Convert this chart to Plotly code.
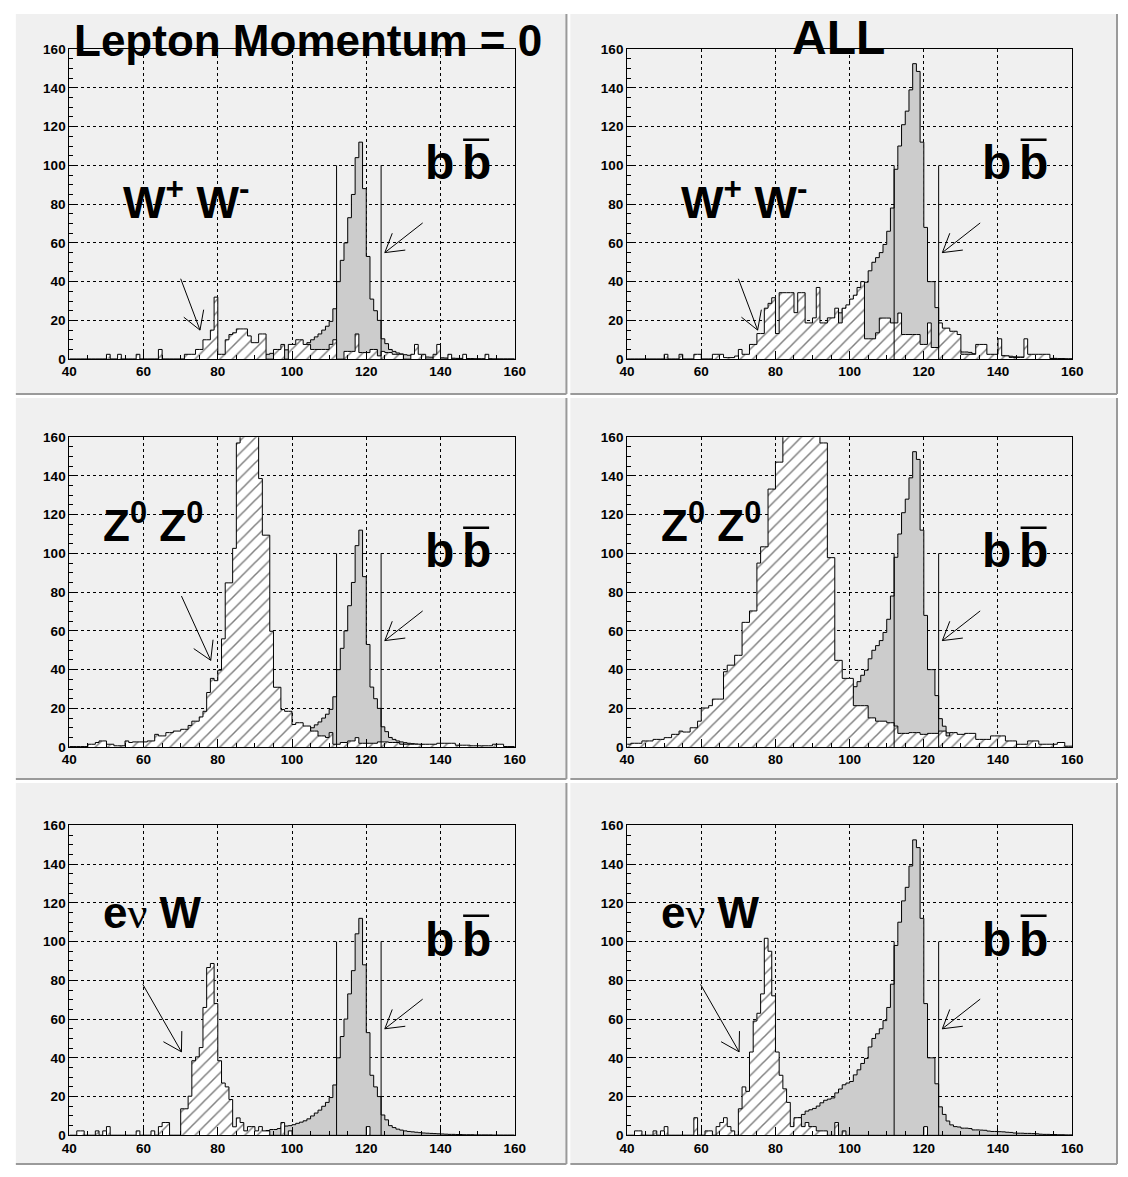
import math
import plotly.graph_objects as go

# Histogram binning: 120 bins of 1 GeV between 40 and 160
X_MIN, X_MAX = 40, 160
Y_MAX = 160
BIN_EDGES = list(range(X_MIN, X_MAX + 1))

# b b-bar signal, "Lepton Momentum = 0" selection (left column)
BB_LEPTON0 = [
    0, 0, 0, 0, 0, 0, 0, 0, 0, 0,                      # 40
    0, 0, 0, 0, 0, 0, 0, 0, 0, 0,                      # 50
    0, 0, 0, 0, 0, 0, 0, 0, 0, 0,                      # 60
    0, 0, 0, 0, 0, 0, 0, 0, 0, 0,                      # 70
    0, 0, 0, 0, 0, 0, 0, 0, 1, 1,                      # 80
    1.5, 2, 2, 2.5, 3, 3, 3.5, 4.5, 4.8, 5,            # 90
    5.5, 6.2, 6.8, 7.5, 8.5, 10, 11.5, 13, 15, 17,     # 100
    19.5, 26, 40, 51, 60, 73, 85, 104, 112, 88,        # 110
    53, 31, 25, 20, 10.5, 8, 5, 4, 3.2, 2.7,           # 120
    2.3, 2, 1.8, 1.6, 1.4, 1.2, 1.1, 1, 0.9, 0.8,      # 130
    0.7, 0.6, 0.5, 0.5, 0.4, 0.4, 0.3, 0.3, 0.3, 0.2,  # 140
    0.2, 0.2, 0.2, 0.2, 0.1, 0.1, 0.1, 0.1, 0.1, 0.1,  # 150
]

# b b-bar signal, all events (right column)
BB_ALL = [
    0, 0, 0, 0, 0, 0, 0, 0, 0, 0,
    0, 0, 0, 0, 0, 0, 0, 0, 0, 0,
    0, 0, 0, 0, 0, 0, 0, 0, 0, 0,
    0, 0, 0, 0, 0, 0, 0, 0, 0, 0,
    0, 0, 0, 1, 3, 7, 9.1, 10.8, 12.5, 13.2,
    13.9, 15.1, 16.8, 18.1, 18.7, 19.3, 21.9, 23.9, 26.1, 27,
    27.8, 31.2, 33.8, 37.1, 39.7, 45.6, 50, 52.4, 55, 59.2,
    66, 78, 98, 110, 121, 128, 139, 152.5, 148.5, 112,
    68, 40, 40, 26.6, 14.7, 10.8, 7.4, 5.4, 4.5, 4.3,
    3.7, 3.7, 3.5, 2.8, 2.8, 2.7, 2.6, 2.2, 2, 2,
    1.9, 1.8, 1.6, 1.5, 1.2, 1.1, 1.1, 1, 1, 0.9,
    0.8, 0.6, 0.5, 0.5, 0.4, 0.4, 0.3, 0.3, 0.2, 0.2,
]

# W+ W- background
WW_LEPTON0 = [
    0, 0, 0, 0, 0, 0, 0, 0, 0, 0,
    2.5, 0, 0, 2.5, 0, 0, 0, 0, 2.5, 0,
    0, 0, 0, 0, 5, 0, 0, 0, 0, 0,
    0, 2.5, 2.5, 2.5, 5, 5, 10, 10, 15, 32,
    2.5, 2.5, 10, 12.7, 13.6, 15.6, 15.6, 15.6, 12, 8.5,
    8.5, 13, 13, 0, 0, 5, 5, 7.6, 0, 7.6,
    7.6, 10, 10, 7.6, 7.6, 5, 5, 5, 5, 5,
    7.6, 10, 0, 0, 4, 4, 4, 13, 3.4, 3.4,
    3.4, 5, 5, 1.7, 4, 3.4, 3.4, 2.5, 2.5, 2.5,
    0, 0, 2.5, 7.6, 2.5, 2.5, 0, 0, 2.5, 7.6,
    0, 0, 2.5, 0, 0, 0, 2.5, 0, 0, 0,
    0, 0, 2.5, 0, 0, 0, 0, 0, 0, 0,
]

WW_ALL = [
    0, 0, 0, 0, 0, 0, 0, 0, 0, 0,
    2.5, 0, 0, 0, 2.5, 0, 0, 0, 2.5, 2.5,
    0, 0, 0, 2.5, 2.5, 2.5, 0.8, 0.8, 0.8, 1.6,
    5, 2.5, 2.5, 7.6, 7.6, 13.2, 13.2, 26.3, 28.8, 31.7,
    13.2, 34.3, 34.3, 34.3, 34.3, 24, 34.3, 34.3, 18.7, 18.7,
    21.3, 37, 18.7, 18.7, 21.3, 21.3, 26.3, 18.7, 26.3, 28,
    31, 33, 37, 40, 10.5, 10.5, 10.5, 13.6, 21.2, 21.2,
    21.2, 18.7, 18.7, 23.8, 12.7, 12.7, 12.7, 12.7, 12.7, 7.6,
    7.6, 18.7, 6, 6, 18.7, 16, 16, 14.4, 14.4, 12.7,
    2.5, 2.5, 2.5, 2.5, 7.6, 7.6, 7.6, 2.5, 2.5, 2.5,
    10.5, 1.7, 1.7, 0.9, 0.9, 0.9, 0.9, 10.5, 2.5, 2.5,
    2.5, 2.5, 2.5, 2.5, 0.3, 0.3, 0.3, 0.3, 0, 0,
]

# Z0 Z0 background (bins above 160 run off the top of the frame)
ZZ_LEPTON0 = [
    0.3, 0.3, 0.3, 0.3, 0.3, 1.5, 1.5, 2.4, 3.2, 3.2,
    1.5, 1.5, 0.7, 0.7, 0.7, 3.2, 2.4, 2.7, 2.7, 2.7,
    2.7, 3.2, 3.2, 6.6, 5.8, 5.8, 7.5, 7.5, 8.3, 8.3,
    9.2, 9.2, 11.2, 13.4, 13.4, 15.6, 18.5, 28.2, 35.5, 34.3,
    39.7, 55.9, 84.8, 84.8, 102.6, 157, 175, 190, 200, 185,
    170, 138.6, 109.4, 109.4, 59.8, 30.9, 30.9, 19.4, 18.5, 18.5,
    11.7, 12.6, 12.6, 10.9, 10.9, 8.3, 8.3, 5.8, 5.8, 5,
    7.5, 1.5, 1.5, 2.4, 2.4, 3.2, 3.2, 4.9, 2, 2,
    2, 2, 2, 2.7, 2.7, 2.7, 2.4, 2.4, 2.4, 1.5,
    1.5, 1.5, 1.5, 1.5, 1.5, 1.5, 1.5, 1.5, 1.5, 2,
    2, 2, 2, 2, 1, 1, 1, 1, 0.7, 0.7,
    0.7, 0.7, 0.7, 0.7, 1.5, 1.5, 1.5, 0.3, 0.3, 0.3,
]

ZZ_ALL = [
    1.5, 2, 2, 2, 3.2, 3.2, 3.2, 4, 4, 4,
    4.9, 4.9, 6.6, 6.6, 8.3, 7.8, 7.8, 10, 10, 13.4,
    20.2, 20.2, 21.4, 24.8, 24.8, 24.8, 38.9, 42.3, 42.3, 47.4,
    47.4, 64.4, 64.4, 70.3, 70.3, 95, 103.4, 103.4, 133.2, 133.2,
    147.1, 147.1, 165, 180, 195, 205, 215, 220, 215, 205,
    190, 175, 157, 157, 97.8, 97.8, 44.8, 44.8, 35.5, 35.5,
    35.5, 21.4, 21.4, 21.4, 21.4, 15.1, 15.1, 13.4, 13.4, 13.4,
    12.6, 12.6, 10.9, 7.1, 7.1, 7.1, 7.5, 7.5, 7.5, 6.6,
    6.6, 7.1, 7.1, 7.1, 8.3, 8.3, 5.8, 7.5, 7.5, 6.6,
    6.6, 7.1, 7.1, 7.1, 4, 4, 4, 4, 5.8, 5.8,
    5.8, 5.8, 3.2, 3.2, 3.2, 1.5, 1.5, 1.5, 3.2, 3.2,
    3.2, 1.5, 1.5, 1.5, 1.5, 1.5, 2.4, 2.4, 0.5, 0.5,
]

# e nu W background
ENUW_LEPTON0 = [
    0, 0, 2.3, 2.3, 0, 0, 0, 2.3, 0, 2.3,
    4.5, 0, 0, 0, 0, 0, 0, 0, 2.3, 0,
    0, 0, 2.3, 0, 4.5, 6.6, 6.6, 0, 0, 0,
    13.7, 13.7, 20.2, 38.5, 40.5, 45.3, 66, 86.6, 88.7, 68,
    38.5, 27, 25, 18.5, 4.4, 9, 6.6, 2.3, 4.5, 4.5,
    2.3, 4.5, 2.3, 2.3, 0, 0, 0, 6.6, 0, 2.3,
    0, 0, 0, 0, 0, 0, 0, 0, 0, 0,
    0, 0, 0, 0, 0, 0, 0, 0, 0, 0,
    4.5, 0, 0, 0, 0, 0, 0, 0, 0, 0,
    0, 0, 0, 0, 0, 0, 0, 0, 0, 0,
    0, 0, 0, 0, 0, 0, 0, 0, 0, 0,
    0, 0, 0, 0, 0, 0, 0, 0, 0, 0,
]

ENUW_ALL = [
    0, 0, 2.3, 2.3, 0, 0, 0, 2.3, 0, 2.3,
    4.5, 0, 0, 0, 0, 0, 0, 0, 9.1, 0,
    0, 2.3, 2.3, 0, 4.5, 6.6, 9.1, 4.5, 2.3, 0,
    13.7, 25, 22.7, 43, 59, 63, 73, 101.7, 95, 72,
    43, 31, 24, 17, 4.5, 9.1, 9.1, 4.5, 6.6, 4.5,
    4.5, 2.3, 2.3, 2.3, 0, 0, 6.6, 0, 2.3, 0,
    0, 0, 0, 0, 0, 0, 0, 0, 0, 0,
    0, 0, 0, 0, 0, 0, 0, 0, 0, 0,
    4.5, 0, 0, 0, 0, 0, 0, 0, 0, 0,
    0, 0, 0, 0, 0, 0, 0, 0, 0, 0,
    0, 0, 0, 0, 0, 0, 0, 0, 0, 0,
    0, 0, 0, 0, 0, 0, 0, 0, 0, 0,
]

# Mass window cut lines (x position) and their height
CUT_X = [112, 124]
CUT_TOP = 100

# Arrows: (tail x, tail y, tip x, tip y) in axis units
BB_ARROW = (135.2, 70.3, 125.0, 55.0)
WW_ARROW = (70.0, 41.5, 75.2, 15.0)
ZZ_ARROW = (70.2, 78.0, 78.1, 44.8)
ENUW_ARROW = (59.8, 77.9, 70.2, 43.1)

COLUMN_TITLES = ["Lepton Momentum = 0", "ALL"]

# ---------------------------------------------------------------- geometry
FIG_W, FIG_H = 1128, 1177
COL_PX = [(62.4, 515.4), (629.7, 1082.4)]
ROW_PX = [(42.7, 356.7), (435.7, 749.7), (828.9, 1142.9)]
PAD_PX_X = [(8, 568), (572, 1128)]
PAD_PX_Y = [(7, 392), (396, 782), (786, 1172)]

PAD_COLOR = "#f0f0f0"
EDGE_COLOR = "#9a9a9a"
SIGNAL_COLOR = "#cccccc"
FONT = "Liberation Sans, Arial, Helvetica, sans-serif"


def px_to_paper_x(px):
    return px / FIG_W


def px_to_paper_y(py):
    return 1 - py / FIG_H


def step(values):
    return BIN_EDGES, list(values) + [values[-1]]


LABEL_WW = dict(text="W<sup>+</sup> W<sup>-</sup>", x=54.0, y=72.2, size=45)
LABEL_ZZ = dict(text="Z<sup>0</sup> Z<sup>0</sup>", x=48.6, y=106.0, size=44)
LABEL_ENUW = dict(
    text="e<span style='font-family:Liberation Serif, serif; font-weight:normal'>ν</span> W",
    x=48.6, y=106.0, size=44)

PANELS = [
    dict(col=0, row=0, sig=BB_LEPTON0, bkg=WW_LEPTON0, label=LABEL_WW, arrow=WW_ARROW),
    dict(col=1, row=0, sig=BB_ALL, bkg=WW_ALL, label=LABEL_WW, arrow=WW_ARROW),
    dict(col=0, row=1, sig=BB_LEPTON0, bkg=ZZ_LEPTON0, label=LABEL_ZZ, arrow=ZZ_ARROW),
    dict(col=1, row=1, sig=BB_ALL, bkg=ZZ_ALL, label=LABEL_ZZ, arrow=None),
    dict(col=0, row=2, sig=BB_LEPTON0, bkg=ENUW_LEPTON0, label=LABEL_ENUW, arrow=ENUW_ARROW),
    dict(col=1, row=2, sig=BB_ALL, bkg=ENUW_ALL, label=LABEL_ENUW, arrow=ENUW_ARROW),
]

fig = go.Figure()
shapes = []
annotations = []

# pad backgrounds with a bevelled edge
for (px0, px1) in PAD_PX_X:
    for (py0, py1) in PAD_PX_Y:
        shapes.append(dict(type="rect", xref="paper", yref="paper", layer="below",
                           x0=px_to_paper_x(px0), x1=px_to_paper_x(px1),
                           y0=px_to_paper_y(py1), y1=px_to_paper_y(py0),
                           fillcolor=PAD_COLOR, line=dict(width=0)))
        # darker bottom and right edges
        shapes.append(dict(type="line", xref="paper", yref="paper", layer="below",
                           x0=px_to_paper_x(px0), x1=px_to_paper_x(px1),
                           y0=px_to_paper_y(py1), y1=px_to_paper_y(py1),
                           line=dict(color=EDGE_COLOR, width=2)))
        shapes.append(dict(type="line", xref="paper", yref="paper", layer="below",
                           x0=px_to_paper_x(px1), x1=px_to_paper_x(px1),
                           y0=px_to_paper_y(py1), y1=px_to_paper_y(py0),
                           line=dict(color=EDGE_COLOR, width=2)))

layout_axes = {}
for i, p in enumerate(PANELS):
    n = i + 1
    xname = "x" if n == 1 else f"x{n}"
    yname = "y" if n == 1 else f"y{n}"
    xl = "xaxis" if n == 1 else f"xaxis{n}"
    yl = "yaxis" if n == 1 else f"yaxis{n}"
    cx0, cx1 = COL_PX[p["col"]]
    ry0, ry1 = ROW_PX[p["row"]]
    sx = (cx1 - cx0) / (X_MAX - X_MIN)
    sy = (ry1 - ry0) / Y_MAX

    common = dict(showline=True, linecolor="black", linewidth=1, mirror=True,
                  ticks="inside", ticklen=8, tickwidth=1, tickcolor="black",
                  showgrid=True, gridcolor="black", gridwidth=1, griddash="dot",
                  zeroline=False, fixedrange=True,
                  tickfont=dict(family=FONT, size=13.5, color="black", weight="bold"),
                  minor=dict(dtick=5, ticklen=4, ticks="inside", tickcolor="black",
                             showgrid=False))
    layout_axes[xl] = dict(common, domain=[px_to_paper_x(cx0), px_to_paper_x(cx1)],
                           range=[X_MIN, X_MAX], dtick=20, tick0=40, anchor=yname)
    layout_axes[yl] = dict(common, domain=[px_to_paper_y(ry1), px_to_paper_y(ry0)],
                           range=[0, Y_MAX], dtick=20, tick0=0, anchor=xname)

    xs, ys = step(p["sig"])
    fig.add_trace(go.Scatter(x=xs, y=ys, mode="lines", xaxis=xname, yaxis=yname,
                             line=dict(shape="hv", color="black", width=1),
                             fill="tozeroy", fillcolor=SIGNAL_COLOR,
                             hoverinfo="skip", showlegend=False))
    xs, ys = step(p["bkg"])
    fig.add_trace(go.Scatter(x=xs, y=ys, mode="lines", xaxis=xname, yaxis=yname,
                             line=dict(shape="hv", color="black", width=1),
                             fill="tozeroy", fillcolor="white",
                             fillpattern=dict(shape="/", size=8.8, solidity=0.17,
                                              fgcolor="black", bgcolor="white"),
                             hoverinfo="skip", showlegend=False))

    # mass window
    for cx in CUT_X:
        shapes.append(dict(type="line", xref=xname, yref=yname, x0=cx, x1=cx,
                           y0=0, y1=CUT_TOP, line=dict(color="black", width=1)))

    # arrows with open heads
    arrows = [BB_ARROW] + ([p["arrow"]] if p["arrow"] else [])
    for (tx, ty, hx, hy) in arrows:
        shapes.append(dict(type="line", xref=xname, yref=yname, x0=tx, y0=ty,
                           x1=hx, y1=hy, line=dict(color="black", width=1)))
        ang = math.atan2((ty - hy) * sy, (tx - hx) * sx)
        for da in (-0.54, 0.54):
            bx = hx + 21 * math.cos(ang + da) / sx
            by = hy + 21 * math.sin(ang + da) / sy
            shapes.append(dict(type="line", xref=xname, yref=yname, x0=hx, y0=hy,
                               x1=bx, y1=by, line=dict(color="black", width=1)))

    # b b-bar label
    b_bottom = 92.3 - (0.212 * 48 + 1) / sy
    for bxc in (139.6, 149.7):
        annotations.append(dict(xref=xname, yref=yname, x=bxc, y=b_bottom,
                                xanchor="center", yanchor="bottom", showarrow=False,
                                text="b", font=dict(family=FONT, size=48,
                                                    color="black", weight="bold")))
    shapes.append(dict(type="line", xref=xname, yref=yname, x0=146.1, x1=153.1,
                       y0=113.3, y1=113.3, line=dict(color="black", width=2.5)))

    lab = p["label"]
    annotations.append(dict(xref=xname, yref=yname, x=lab["x"],
                            y=lab["y"] - (0.212 * lab["size"] + 1) / sy,
                            xanchor="left", yanchor="bottom", showarrow=False,
                            text=lab["text"],
                            font=dict(family=FONT, size=lab["size"], color="black",
                                      weight="bold")))

# column titles
annotations.append(dict(xref="paper", yref="paper", x=px_to_paper_x(305),
                        y=px_to_paper_y(50 + 0.212 * 44 + 1), xanchor="center",
                        yanchor="bottom", showarrow=False, text=COLUMN_TITLES[0],
                        font=dict(family=FONT, size=44, color="black", weight="bold")))
annotations.append(dict(xref="paper", yref="paper", x=px_to_paper_x(845),
                        y=px_to_paper_y(49 + 0.212 * 48 + 1), xanchor="center",
                        yanchor="bottom", showarrow=False, text=COLUMN_TITLES[1],
                        font=dict(family=FONT, size=48, color="black", weight="bold")))

fig.update_layout(width=FIG_W, height=FIG_H, margin=dict(l=0, r=0, t=0, b=0),
                  paper_bgcolor="white", plot_bgcolor=PAD_COLOR,
                  shapes=shapes, annotations=annotations, showlegend=False,
                  **layout_axes)

fig.write_html("out.html")
